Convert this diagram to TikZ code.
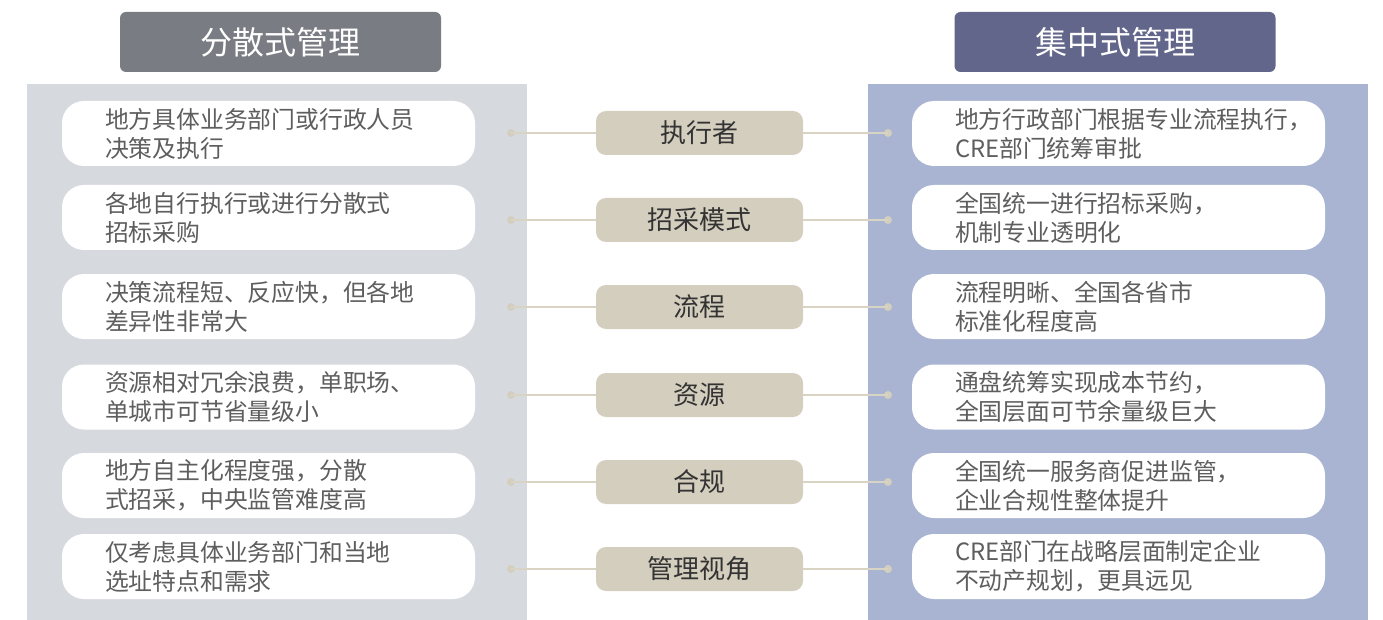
\documentclass[tikz,border=0pt]{standalone}
\usepackage{fontspec}
\newfontfamily\cjk{Noto Sans CJK SC}
\definecolor{hdrL}{HTML}{7A7C83}
\definecolor{hdrR}{HTML}{62668A}
\definecolor{panL}{HTML}{D6DADF}
\definecolor{panR}{HTML}{A9B4D2}
\definecolor{pill}{HTML}{D4CEBE}
\definecolor{lnk}{HTML}{D9D3C3}
\definecolor{txt}{HTML}{5E5E5E}
\definecolor{ptxt}{HTML}{333333}
\tikzset{
  header/.style={rounded corners=6pt, minimum width=321pt, minimum height=60pt, inner sep=0pt, text=white, font=\cjk\fontsize{32}{36}\selectfont},
  panel/.style={inner sep=0pt, minimum width=500pt, minimum height=536pt},
  wbox/.style={fill=white, rounded corners=22pt, minimum width=413pt, minimum height=65pt, inner sep=0pt},
  btext/.style={anchor=west, align=left, inner sep=0pt, text=txt, font=\cjk\fontsize{23.8}{29}\selectfont},
  pillbox/.style={fill=pill, rounded corners=10pt, minimum width=207pt, minimum height=44pt, inner sep=0pt, text=ptxt, font=\cjk\fontsize{26}{30}\selectfont},
  dotn/.style={circle, fill=pill, inner sep=0pt, minimum size=8pt},
  link/.style={draw=lnk, line width=2.2pt}
}
\begin{document}
\begin{tikzpicture}[x=1pt,y=-1pt]
\useasboundingbox (0,0) rectangle (1383,620);
% panels
\node[panel, fill=panL, anchor=north west] (panL) at (27,84) {};
\node[panel, fill=panR, anchor=north west] (panR) at (868,84) {};
% headers
\node[header, fill=hdrL] (hL) at (280.5,42) {分散式管理};
\node[header, fill=hdrR] (hR) at (1115,42) {集中式管理};
% rows
\foreach \i/\yb/\yp/\pt/\lt/\rt in {
  1/133.5/133/执行者/{地方具体业务部门或行政人员\\决策及执行}/{地方行政部门根据专业流程执行，\\CRE部门统筹审批},
  2/217.5/220/招采模式/{各地自行执行或进行分散式\\招标采购}/{全国统一进行招标采购，\\机制专业透明化},
  3/306.5/307/流程/{决策流程短、反应快，但各地\\差异性非常大}/{流程明晰、全国各省市\\标准化程度高},
  4/397/395/资源/{资源相对冗余浪费，单职场、\\单城市可节省量级小}/{通盘统筹实现成本节约，\\全国层面可节余量级巨大},
  5/485.5/482/合规/{地方自主化程度强，分散\\式招采，中央监管难度高}/{全国统一服务商促进监管，\\企业合规性整体提升},
  6/566.5/569/管理视角/{仅考虑具体业务部门和当地\\选址特点和需求}/{CRE部门在战略层面制定企业\\不动产规划，更具远见}}
{
  \node[wbox] (L\i) at (268.5,\yb) {};
  \node[btext] (LT\i) at ([xshift=43pt]L\i.west) {\lt};
  \node[wbox] (R\i) at (1118.5,\yb) {};
  \node[btext] (RT\i) at ([xshift=43pt]R\i.west) {\rt};
  \node[pillbox] (P\i) at (699.5,\yp) {\pt};
  \node[dotn] (DL\i) at (511,\yp) {};
  \node[dotn] (DR\i) at (888,\yp) {};
  \draw[link] (DL\i.center) -- (P\i.west);
  \draw[link] (P\i.east) -- (DR\i.center);
}
\end{tikzpicture}
\end{document}
